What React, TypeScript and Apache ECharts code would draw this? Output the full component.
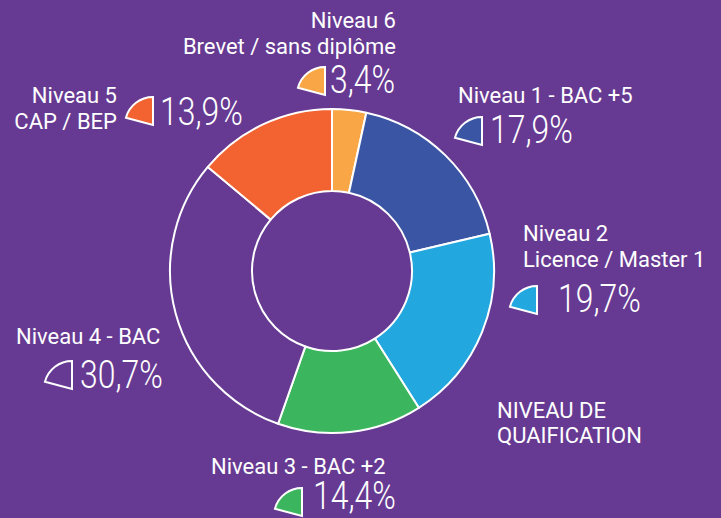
import React, { useEffect, useRef } from "react";
import * as echarts from "echarts";

// ---- data ----
const labels = [
  "Niveau 6\nBrevet / sans diplôme",
  "Niveau 1 - BAC +5",
  "Niveau 2\nLicence / Master 1",
  "Niveau 3 - BAC +2",
  "Niveau 4 - BAC",
  "Niveau 5\nCAP / BEP",
];
const shares = [3.4, 17.9, 19.7, 14.4, 30.7, 13.9];
const percentTexts = ["3,4%", "17,9%", "19,7%", "14,4%", "30,7%", "13,9%"];
const chartTitle = "NIVEAU DE\nQUAIFICATION";

// ---- styles ----
const BG = "#663a92";
const sliceColors = ["#f9a746", "#3a55a4", "#23a7df", "#3bb55e", BG, "#f26331"];

// label layout: [labelX, labelTopY, align, iconApexX, iconApexY, pctX, pctY]
const layout: [number, number, "left" | "right", number, number, number, number][] = [
  [396, 7, "right", 325, 95, 330, 80],
  [458, 82, "left", 482, 145, 490, 130],
  [523, 220, "left", 537, 314, 558, 299],
  [211, 453, "left", 302, 516, 313, 496],
  [16, 323, "left", 72, 389, 80, 375],
  [117, 82, "right", 153, 125, 160, 112],
];

export default function App() {
  const ref = useRef<HTMLDivElement>(null);
  useEffect(() => {
    document.body.style.margin = "0";
    const chart = echarts.init(ref.current!, null, { renderer: "svg" });
    const graphics: any[] = [];
    labels.forEach((lab, i) => {
      const [lx, ly, align, ix, iy, px, py] = layout[i];
      graphics.push({
        type: "text",
        x: lx,
        y: ly,
        silent: true,
        style: {
          text: lab,
          fill: "#fff",
          font: "400 22px Roboto",
          align,
          verticalAlign: "top",
          lineHeight: 26,
        },
      });
      graphics.push({
        type: "sector",
        x: ix,
        y: iy,
        silent: true,
        shape: {
          cx: 0,
          cy: 0,
          r: 28,
          r0: 0,
          startAngle: (195 * Math.PI) / 180,
          endAngle: 1.5 * Math.PI,
          clockwise: true,
        },
        style: { fill: sliceColors[i], stroke: "#fff", lineWidth: 2 },
      });
      graphics.push({
        type: "text",
        x: px,
        y: py,
        scaleX: 0.84,
        silent: true,
        style: {
          text: percentTexts[i],
          fill: "#fff",
          font: "300 38px Roboto",
          align: "left",
          verticalAlign: "middle",
        },
      });
    });
    graphics.push({
      type: "text",
      x: 497,
      y: 398,
      silent: true,
      style: {
        text: chartTitle,
        fill: "#fff",
        font: "400 22px Roboto",
        align: "left",
        verticalAlign: "top",
        lineHeight: 25,
      },
    });

    chart.setOption({
      animation: false,
      backgroundColor: BG,
      series: [
        {
          type: "pie",
          center: [332, 271],
          radius: [80, 162],
          startAngle: 90,
          clockwise: true,
          silent: true,
          label: { show: false },
          labelLine: { show: false },
          itemStyle: { borderColor: "#fff", borderWidth: 2 },
          data: shares.map((v, i) => ({
            value: v,
            name: labels[i],
            itemStyle: { color: sliceColors[i] },
          })),
        },
      ],
      graphic: graphics,
    });
    return () => chart.dispose();
  }, []);
  return <div ref={ref} style={{ width: 721, height: 518 }} />;
}
